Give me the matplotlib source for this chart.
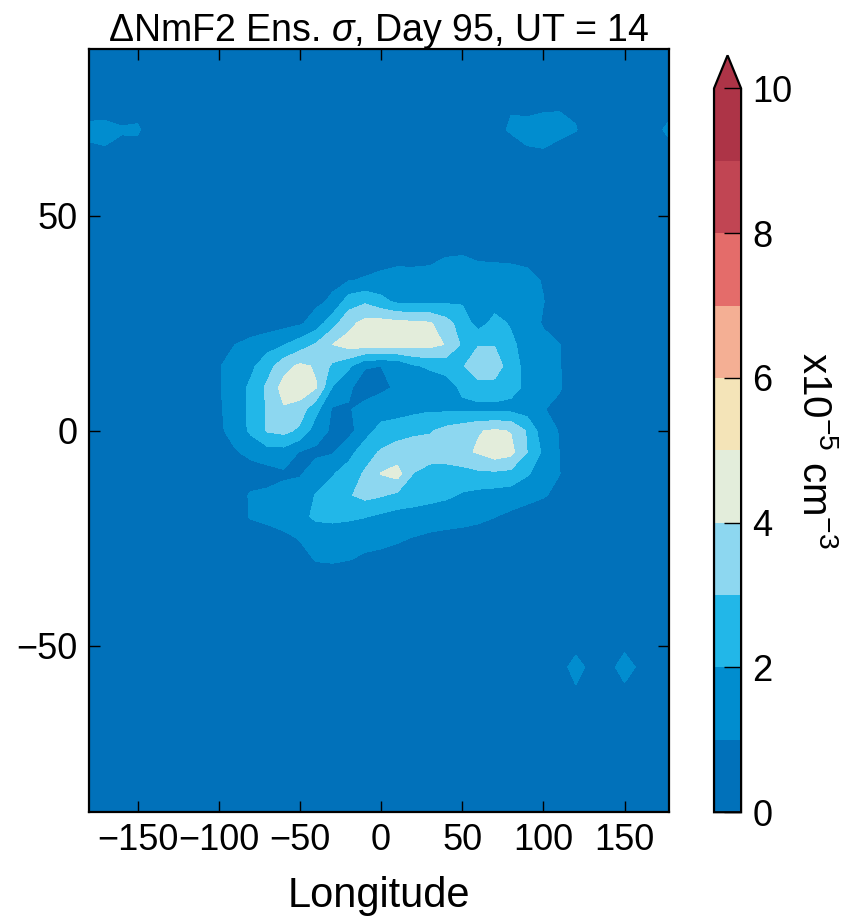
import numpy as np
import matplotlib
matplotlib.use("Agg")
import matplotlib.pyplot as plt
from matplotlib.colors import ListedColormap

plt.rcParams['font.family'] = ['Liberation Sans', 'DejaVu Sans']
plt.rcParams['mathtext.fontset'] = 'custom'
plt.rcParams['mathtext.rm'] = 'Liberation Sans'
plt.rcParams['mathtext.it'] = 'Liberation Sans:italic'

# ensemble spread of NmF2 on a 10 deg (lon) x 5 deg (lat) grid
lons = np.arange(-180, 181, 10)
lats = np.arange(-90, 91, 5)
background = 0.1

# central patch: rows lat 45 -> -35, columns lon -110 -> 120
central = [
    [0.2, 0.2, 0.2, 0.2, 0.2, 0.2, 0.2, 0.2, 0.2, 0.25, 0.3, 0.4, 0.5, 0.55, 0.6, 0.65, 0.7, 0.7, 0.7, 0.65, 0.6, 0.4, 0.3, 0.2],
    [0.2, 0.2, 0.2, 0.2, 0.2, 0.25, 0.3, 0.35, 0.4, 0.45, 0.5, 0.6, 0.75, 0.8, 0.9, 1.02, 1.05, 0.95, 0.93, 0.9, 0.85, 0.6, 0.3, 0.2],
    [0.1, 0.15, 0.2, 0.3, 0.4, 0.5, 0.6, 0.7, 0.8, 0.93, 1.1, 1.3, 1.4, 1.3, 1.2, 1.3, 1.35, 1.3, 1.3, 1.3, 1.2, 0.95, 0.6, 0.2],
    [0.1, 0.2, 0.3, 0.4, 0.5, 0.6, 0.7, 0.8, 1.15, 2.5, 2.85, 2.3, 1.8, 1.8, 1.8, 1.85, 1.9, 1.5, 1.6, 1.7, 1.4, 1.02, 0.6, 0.2],
    [0.1, 0.2, 0.3, 0.4, 0.5, 0.65, 0.85, 1.45, 2.6, 3.7, 4.3, 4.4, 4.3, 4.2, 4.1, 3.4, 2.5, 1.6, 2.3, 1.9, 1.5, 0.9, 0.5, 0.2],
    [0.2, 0.7, 1.0, 1.3, 1.6, 1.95, 2.5, 3.1, 4.0, 4.4, 4.5, 4.5, 4.5, 4.4, 4.3, 3.95, 2.85, 2.95, 2.95, 2.2, 1.6, 1.3, 1.02, 0.4],
    [0.4, 0.95, 1.3, 1.8, 2.6, 3.6, 4.2, 3.9, 2.8, 2.2, 1.05, 1.0, 1.05, 1.85, 2.2, 2.4, 2.9, 3.7, 3.6, 2.4, 1.7, 1.4, 1.05, 0.4],
    [0.3, 0.9, 1.5, 2.2, 3.2, 4.4, 4.7, 4.05, 1.95, 1.1, 0.7, 0.85, 1.1, 1.05, 1.1, 1.5, 2.2, 2.6, 2.6, 2.3, 1.8, 1.4, 1.1, 0.4],
    [0.2, 0.85, 1.5, 2.2, 3.1, 3.9, 3.5, 2.3, 0.9, 0.95, 1.2, 1.4, 1.5, 1.7, 1.85, 1.8, 1.75, 1.7, 1.7, 1.7, 1.5, 1.05, 0.7, 0.3],
    [0.2, 0.8, 1.4, 2.2, 3.1, 3.3, 2.8, 1.45, 0.85, 0.7, 1.5, 2.4, 2.6, 2.8, 2.9, 3.3, 3.6, 3.95, 4.1, 3.95, 2.9, 1.4, 0.95, 0.3],
    [0.1, 0.4, 0.9, 1.3, 1.6, 1.6, 0.95, 0.8, 0.9, 1.6, 2.6, 3.1, 3.4, 3.5, 3.5, 3.6, 3.8, 4.1, 4.6, 4.3, 3.0, 1.8, 0.98, 0.3],
    [0.05, 0.2, 0.4, 0.5, 0.6, 0.85, 0.9, 1.5, 1.9, 2.5, 3.1, 4.05, 4.4, 2.98, 2.6, 2.5, 2.6, 2.8, 2.8, 2.7, 2.1, 1.5, 1.02, 0.3],
    [0.0, 0.2, 0.6, 1.1, 1.2, 1.3, 1.5, 2.05, 2.5, 2.9, 3.3, 3.1, 2.8, 2.6, 2.4, 2.2, 1.9, 1.7, 1.6, 1.5, 1.3, 1.1, 0.7, 0.2],
    [0.0, 0.1, 0.5, 1.1, 1.3, 1.4, 1.7, 2.2, 2.3, 2.2, 2.05, 1.8, 1.6, 1.5, 1.4, 1.3, 1.25, 1.15, 1.02, 0.8, 0.6, 0.4, 0.2, 0.05],
    [0.0, 0.0, 0.1, 0.3, 0.5, 0.8, 1.05, 1.3, 1.3, 1.25, 1.2, 1.15, 1.1, 0.97, 0.85, 0.8, 0.75, 0.7, 0.6, 0.4, 0.3, 0.2, 0.1, 0.0],
    [0.0, 0.0, 0.0, 0.05, 0.1, 0.3, 0.7, 1.05, 1.1, 1.02, 0.9, 0.85, 0.7, 0.5, 0.4, 0.3, 0.2, 0.2, 0.2, 0.1, 0.1, 0.1, 0.05, 0.0],
    [0.0, 0.0, 0.0, 0.0, 0.05, 0.1, 0.3, 0.5, 0.5, 0.5, 0.45, 0.4, 0.3, 0.25, 0.2, 0.15, 0.1, 0.1, 0.1, 0.05, 0.05, 0.05, 0.0, 0.0],
]

# small patches at high latitudes: rows lat 75 -> 65
island_nw = [  # lon -180 -> -140
    [0.6, 0.6, 0.5, 0.6, 0.3],
    [1.25, 1.3, 1.1, 1.15, 0.4],
    [0.8, 0.9, 0.7, 0.6, 0.3],
]
island_ne = [  # lon 70 -> 130
    [0.5, 0.95, 0.8, 0.9, 0.95, 0.85, 0.3],
    [0.75, 1.1, 1.3, 1.35, 1.25, 1.05, 0.4],
    [0.3, 0.6, 0.9, 0.95, 0.7, 0.5, 0.2],
]
island_e = [  # lon 170 -> 180
    [0.3, 0.6],
    [0.5, 1.9],
    [0.3, 0.6],
]
island_se = [  # lat -50 -> -60, lon 110 -> 160
    [0.4, 0.6, 0.5, 0.6, 0.8, 0.4],
    [0.5, 1.5, 0.6, 0.7, 1.4, 0.8],
    [0.3, 0.9, 0.4, 0.5, 0.85, 0.3],
]

colors = ['#0171ba', '#018dcf', '#22b7e8', '#8dd7f0', '#e3eddb',
          '#f4e4b8', '#f4af94', '#e46c6a', '#c14553', '#ad3447']
levels = np.arange(0, 11, 1)

field = np.full((lats.size, lons.size), background)


def put(block, lat_top, lon_left):
    r0 = np.searchsorted(lats, lat_top)
    c0 = np.searchsorted(lons, lon_left)
    for i, row in enumerate(block):
        field[r0 - i, c0:c0 + len(row)] = row


put(central, 45, -110)
put(island_nw, 75, -180)
put(island_ne, 75, 70)
put(island_e, 75, 170)
put(island_se, -50, 110)

cmap = ListedColormap(colors)
cmap.set_over(colors[-1])

fig = plt.figure(figsize=(8.46, 9.23), dpi=100)
ax = fig.add_axes([0.105, 0.120, 0.686, 0.827])
cs = ax.contourf(lons, lats, field, levels=levels, cmap=cmap, extend='max')
ax.set_xlim(-180, 177.5)
ax.set_ylim(-88.75, 88.75)
ax.set_xticks([-150, -100, -50, 0, 50, 100, 150])
ax.set_yticks([-50, 0, 50])
ax.tick_params(direction='in', top=True, right=True, length=8, width=1,
               labelsize=26, pad=8)
for s in ax.spines.values():
    s.set_linewidth(1.6)
ax.set_xlabel('Longitude', fontsize=30, labelpad=13)
ax.set_title(r'$\Delta$NmF2 Ens. $\sigma$, Day 95, UT = 14', fontsize=27, pad=6)

cax = fig.add_axes([0.844, 0.120, 0.032, 0.820])
cbar = fig.colorbar(cs, cax=cax, ticks=[0, 2, 4, 6, 8, 10], extendfrac=0.0456)
cbar.outline.set_linewidth(1.6)
cbar.ax.tick_params(direction='in', length=12, width=1, labelsize=26, pad=8)
cbar.set_label(r'x10$^{-5}$ cm$^{-3}$', rotation=270, fontsize=29, labelpad=30)

fig.savefig('out.png', dpi=100)
